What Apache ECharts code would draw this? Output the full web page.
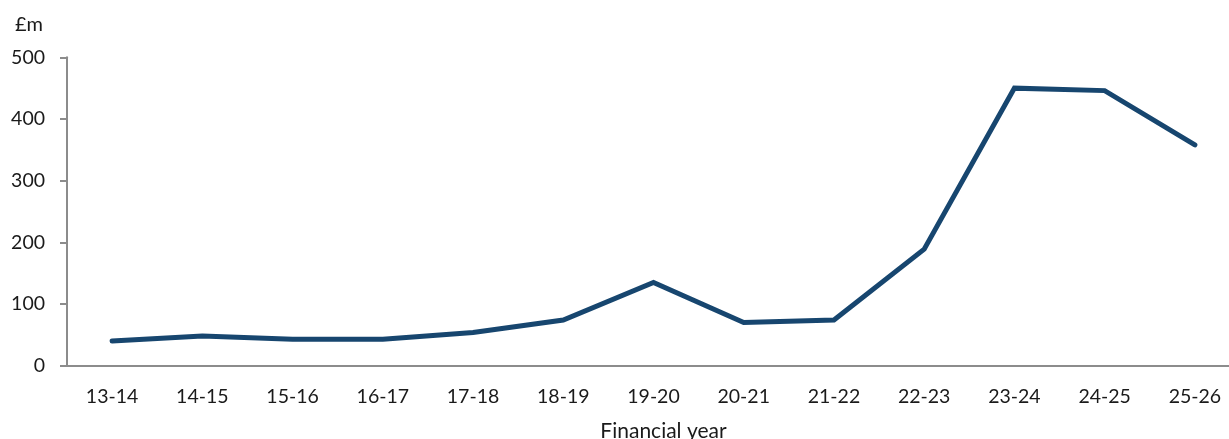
<!DOCTYPE html>
<html><head><meta charset="utf-8">
<script src="https://cdn.jsdelivr.net/npm/echarts@6/dist/echarts.min.js"></script>
<style>html,body{margin:0;padding:0;background:#fff}#c{width:1229px;height:439px}</style>
</head><body><div id="c"></div>
<script>
const categories = ['13-14','14-15','15-16','16-17','17-18','18-19','19-20','20-21','21-22','22-23','23-24','24-25','25-26'];
const values = [40, 48, 43, 43, 54, 74, 135, 70, 74, 189, 450, 446, 358];
const yTicks = { min: 0, max: 500, interval: 100 };
const yUnit = '£m';
const xName = 'Financial year';

const font = 'Lato, "Open Sans", sans-serif';
const chart = echarts.init(document.getElementById('c'), null, {renderer: 'canvas'});
chart.setOption({
  animation: false,
  title: { text: yUnit, left: 10, top: 10, textStyle: { fontFamily: font, fontSize: 20, fontWeight: 'normal', color: '#1a1a1a' } },
  grid: { left: 67, right: -11, top: 57.3, bottom: 73.3, containLabel: false, outerBoundsMode: 'none' },
  xAxis: {
    type: 'category', data: categories, boundaryGap: true,
    name: xName, nameLocation: 'middle', nameGap: 55,
    nameTextStyle: { fontFamily: font, fontSize: 21, color: '#1a1a1a', padding: [0, 0, 0, 20] },
    axisLine: { lineStyle: { color: '#8c8c8c', width: 2 } },
    axisTick: { show: false },
    axisLabel: { fontFamily: font, fontSize: 19.5, color: '#1a1a1a', margin: 21, interval: 0 },
    splitLine: { show: false }
  },
  yAxis: {
    type: 'value', min: yTicks.min, max: yTicks.max, interval: yTicks.interval,
    axisLine: { show: true, lineStyle: { color: '#8c8c8c', width: 2 } },
    axisTick: { show: true, length: 7, lineStyle: { color: '#8c8c8c', width: 2 } },
    axisLabel: { fontFamily: font, fontSize: 19.5, color: '#1a1a1a', margin: 22 },
    splitLine: { show: false }
  },
  series: [{
    type: 'line', data: values, symbol: 'none',
    lineStyle: { color: '#17466f', width: 5, cap: 'round', join: 'miter' }
  }]
});
</script></body></html>
